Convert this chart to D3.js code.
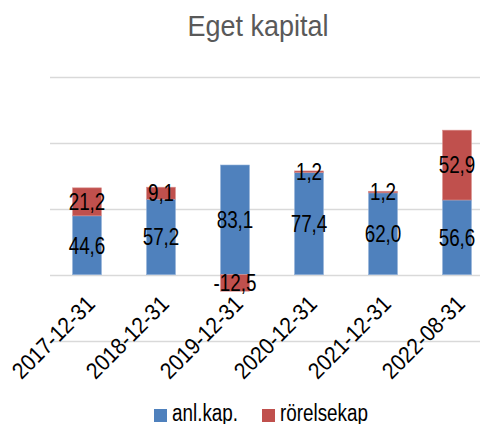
<!DOCTYPE html>
<html>
<head>
<meta charset="utf-8">
<script src="https://d3js.org/d3.v7.min.js"></script>
<style>
  body { margin: 0; background: #fff; }
  svg { display: block; font-family: "Liberation Sans", Arial, sans-serif; }
</style>
</head>
<body>
<svg width="480" height="424"></svg>
<script>
var categories = ["2017-12-31", "2018-12-31", "2019-12-31", "2020-12-31", "2021-12-31", "2022-08-31"];
var anlKap = [44.6, 57.2, 83.1, 77.4, 62.0, 56.6];
var rorelsekap = [21.2, 9.1, -12.5, 1.2, 1.2, 52.9];
var seriesNames = ["anl.kap.", "rörelsekap"];
var gridTicks = [-50, 0, 50, 100, 150];

var svg = d3.select("svg");
var colors = ["#4F81BD", "#C0504D"];
var narrow = " scale(0.82,1)"; // no Arial Narrow here, squeeze the regular face

var x = d3.scaleBand().domain(categories).range([50, 494]).paddingInner(0.61).paddingOuter(0.305);
var y = d3.scaleLinear().domain([-50, 150]).range([340.7, 76.7]);

svg.append("text")
  .attr("transform", "translate(258,36) scale(0.9,1)")
  .attr("text-anchor", "middle")
  .attr("font-size", 30)
  .attr("fill", "#595959")
  .text("Eget kapital");

svg.append("g").selectAll("line")
  .data(gridTicks).enter().append("line")
  .attr("x1", 50).attr("x2", 480)
  .attr("y1", function(d) { return Math.round(y(d)) + 0.5; })
  .attr("y2", function(d) { return Math.round(y(d)) + 0.5; })
  .attr("stroke", "#d9d9d9").attr("stroke-width", 1.5);

// stacked segments: positives stack up, negatives go down from zero
var segs = [];
categories.forEach(function(c, i) {
  var pos = 0, neg = 0;
  [anlKap[i], rorelsekap[i]].forEach(function(v, s) {
    var y0, y1;
    if (v >= 0) { y0 = pos; y1 = pos + v; pos = y1; }
    else { y0 = neg; y1 = neg + v; neg = y1; }
    segs.push({cat: c, s: s, v: v, y0: y0, y1: y1});
  });
});

svg.append("g").selectAll("rect")
  .data(segs).enter().append("rect")
  .attr("x", function(d) { return x(d.cat); })
  .attr("width", x.bandwidth())
  .attr("y", function(d) { return y(Math.max(d.y0, d.y1)); })
  .attr("height", function(d) { return Math.abs(y(d.y0) - y(d.y1)); })
  .attr("fill", function(d) { return colors[d.s]; })
  .attr("stroke", function(d) { return d.s == 0 ? "#8fb0d8" : "#d98f8d"; })
  .attr("stroke-width", 0.6);

svg.append("g").selectAll("text")
  .data(segs).enter().append("text")
  .attr("transform", function(d) {
    return "translate(" + (x(d.cat) + x.bandwidth() / 2) + "," + y((d.y0 + d.y1) / 2) + ")" + narrow;
  })
  .attr("dy", "0.36em")
  .attr("text-anchor", "middle")
  .attr("font-size", 23)
  .attr("fill", "#000")
  .text(function(d) { return d3.format(".1f")(d.v).replace(".", ",").replace("−", "-"); });

svg.append("g").selectAll("text")
  .data(categories).enter().append("text")
  .attr("transform", function(d) {
    return "translate(" + (x(d) + x.bandwidth() / 2 - 2) + ",294) rotate(-45) scale(0.9,1)";
  })
  .attr("text-anchor", "end")
  .attr("dy", "0.7em")
  .attr("font-size", 23)
  .attr("fill", "#000")
  .text(function(d) { return d; });

var legend = svg.append("g");
var legX = [154, 262];
seriesNames.forEach(function(n, i) {
  legend.append("rect")
    .attr("x", legX[i]).attr("y", 409)
    .attr("width", 13).attr("height", 13)
    .attr("fill", colors[i]);
  legend.append("text")
    .attr("transform", "translate(" + (legX[i] + 18) + ",421)" + narrow)
    .attr("font-size", 23)
    .attr("fill", "#000")
    .text(n);
});
</script>
</body>
</html>
